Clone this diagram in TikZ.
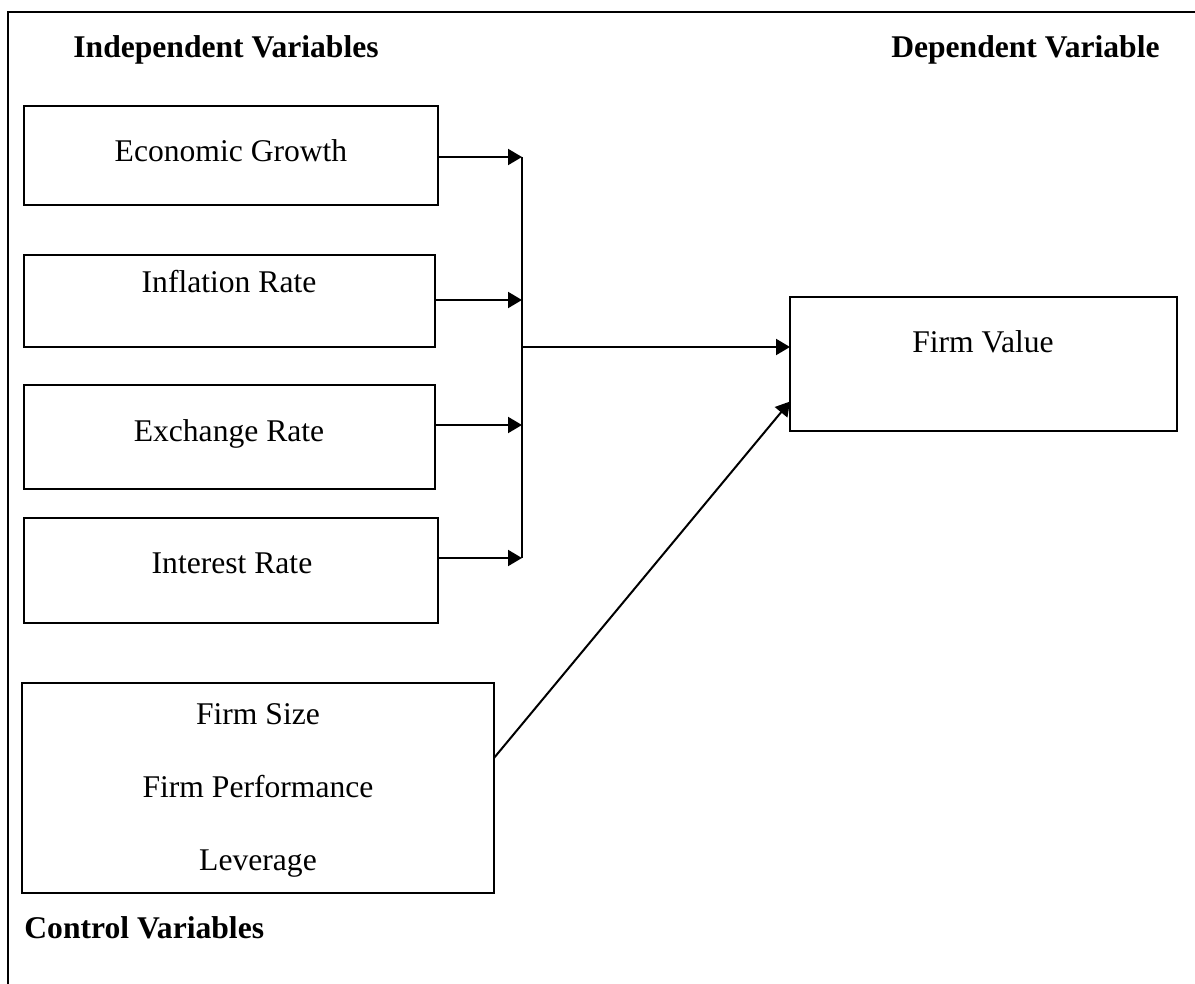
\documentclass[tikz,border=0pt]{standalone}
\usepackage{fontspec}
\setmainfont{Liberation Serif}
\usetikzlibrary{arrows.meta,calc}
\tikzset{
  box/.style={draw, line width=1pt, inner sep=0pt, outer sep=0pt, anchor=north west},
  lbl/.style={inner sep=0pt, anchor=base, font=\fontsize{15.8}{19}\selectfont},
  head/.style={inner sep=0pt, font=\fontsize{15.8}{19}\selectfont\bfseries},
  arr/.style={line width=1pt, -{Triangle[length=7pt,width=8pt]}},
  busline/.style={line width=0.7pt},
  frame/.style={line width=1pt}
}
\begin{document}
\begin{tikzpicture}[x=0.5pt,y=-0.5pt]
\useasboundingbox (0,0) rectangle (1195,984);
% outer frame (left and top visible)
\coordinate (fbl) at (8,984);
\coordinate (ftl) at (8,12);
\coordinate (ftr) at (1195,12);
\draw[frame] (fbl) -- (ftl) -- (ftr);

% headings
\node[head, anchor=base west] (hind) at (73,58) {Independent Variables};
\node[head, anchor=base east] (hdep) at (1160,58) {Dependent Variable};
\node[head, anchor=base west] (hctl) at (24,938) {Control Variables};

% boxes
\node[box, minimum width=207pt, minimum height=49.5pt] (eg) at (24,106) {};
\node[box, minimum width=205.5pt, minimum height=46pt] (ir) at (24,255) {};
\node[box, minimum width=205.5pt, minimum height=52pt] (er) at (24,385) {};
\node[box, minimum width=207pt, minimum height=52.5pt] (int) at (24,518) {};
\node[box, minimum width=236pt, minimum height=105pt] (cv) at (22,683) {};
\node[box, minimum width=193.5pt, minimum height=67pt] (fv) at (790,297) {};

% texts
\node[lbl] (teg) at (231,162) {Economic Growth};
\node[lbl] (tir) at (229,293) {Inflation Rate};
\node[lbl] (ter) at (229,442) {Exchange Rate};
\node[lbl] (tint) at (232,573) {Interest Rate};
\node[lbl] (tfs) at (258,724) {Firm Size};
\node[lbl] (tfp) at (258,797) {Firm Performance};
\node[lbl] (tlev) at (258,870) {Leverage};
\node[lbl] (tfv) at (983,353) {Firm Value};

% bus
\coordinate (a1) at (522,157);
\coordinate (a2) at (522,300);
\coordinate (a3) at (522,425);
\coordinate (a4) at (522,558);
\coordinate (m) at (522,347);
\draw[busline] (a1) -- (a4);
\draw[arr] (eg.east |- a1) -- (a1);
\draw[arr] (ir.east |- a2) -- (a2);
\draw[arr] (er.east |- a3) -- (a3);
\draw[arr] (int.east |- a4) -- (a4);
\draw[arr] (m) -- (m -| fv.west);

% control arrow
\draw[arr] ($(cv.north east)!0.357!(cv.south east)$) -- ($(fv.north west)!0.78!(fv.south west)$);
\end{tikzpicture}
\end{document}
